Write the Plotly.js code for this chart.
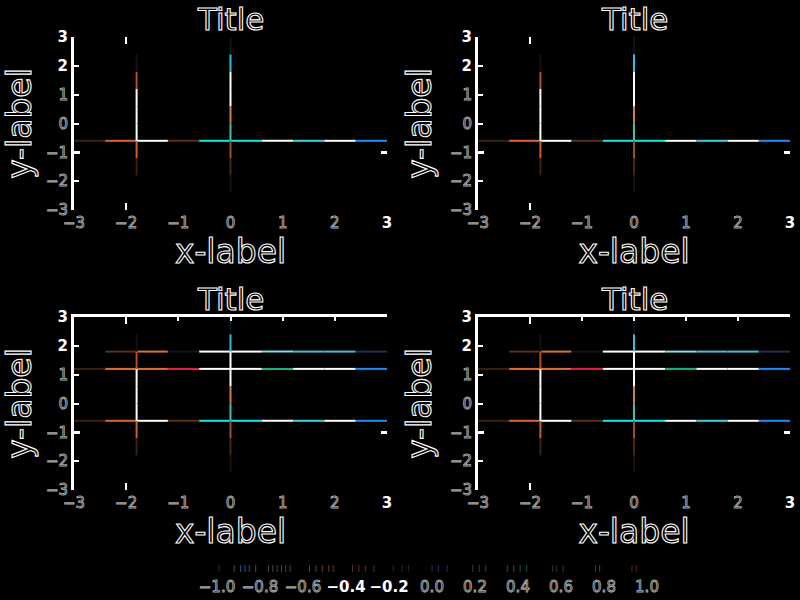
<!DOCTYPE html>
<html>
<head>
<meta charset="utf-8">
<script src="https://cdn.plot.ly/plotly-3.0.1.min.js"></script>
<style>
html,body{margin:0;padding:0;background:#000;}
#chart{width:800px;height:600px;}
#chart svg text.annotation-text, #chart svg text[class$="title"] { fill:#000 !important; stroke:#ffffff; stroke-width:1.1px; }
#chart svg g[class$="tick"] > text { fill:#000 !important; stroke:#a8a8a8; stroke-width:0.9px; }
#chart svg g[class$="tick"] > text tspan[style*="bold"] { fill:#ffffff !important; stroke:none; }
</style>
</head>
<body>
<div id="chart"></div>
<script>
// ---------- data ----------
const segEdges = [-3, -2.4, -1.8, -1.2, -0.6, 0, 0.6, 1.2, 1.8, 2.4, 3];

const hLineLowY = -0.6;
const hLineLowColors = ['#3a2210', '#e2642a', '#ffffff', '#5a3010', '#19e6e6', '#19e6e6', '#ffffff', '#3cd2dc', '#ffffff', '#1e8cf0'];
const hLineMidY = 1.2;
const hLineMidColors = ['#3a2010', '#e07030', '#e07030', '#e02040', '#ffffff', '#ffffff', '#20b080', '#ffffff', '#ffffff', '#1e8cf0'];
const hLineHighY = 1.8;
const hLineHighColors = [null, '#5a3020', '#e07030', '#101020', '#ffffff', '#ffffff', '#80e0f0', '#40c0e0', '#40c0e0', '#203050'];

const vLineLeftX = -1.8;
const vLineLeftColors = [null, null, '#3a2010', '#d06020', '#ffffff', '#ffffff', '#ffffff', '#b05020', '#1a1008', null];
const vLineCenterX = 0;
const vLineCenterColors = [null, '#1a1008', '#4a2410', '#a05020', '#40c0b0', '#d08040', '#ffffff', '#ffffff', '#30c0e0', '#0a1420'];

const axisTickVals = [-3, -2, -1, 0, 1, 2, 3];
const xTickLabels = ['\u22123', '\u22122', '\u22121', '0', '1', '2', '3'];
const xTickBold = [false, false, false, false, false, false, true];
const yTickLabels = ['\u22123', '\u22122', '\u22121', '0', '1', '2', '3'];
const yTickBold = [false, false, false, false, false, true, true];

const cbTickVals = [-1.0, -0.8, -0.6, -0.4, -0.2, 0.0, 0.2, 0.4, 0.6, 0.8, 1.0];
const cbTickLabels = ['\u22121.0', '\u22120.8', '\u22120.6', '\u22120.4', '\u22120.2', '0.0', '0.2', '0.4', '0.6', '0.8', '1.0'];
const cbTickBold = [false, false, false, true, true, false, false, false, false, false, false];

const cbMarkX = [-0.99,
  -0.92, -0.89, -0.87, -0.85, -0.82,
  -0.76, -0.74, -0.72, -0.70, -0.68, -0.66,
  -0.57, -0.54, -0.51, -0.48, -0.46,
  -0.37, -0.34, -0.31, -0.27,
  -0.18, -0.14, -0.11,
  0.00, 0.03, 0.07,
  0.19, 0.22, 0.25,
  0.35, 0.38, 0.41, 0.44,
  0.56, 0.58, 0.61,
  0.76, 0.78,
  0.93, 0.95];
const cbMarkColors = ['#203050',
  '#305080', '#305080', '#305080', '#305080', '#305080',
  '#404848', '#404848', '#404848', '#404848', '#404848', '#404848',
  '#604020', '#604020', '#604020', '#604020', '#604020',
  '#603020', '#603020', '#603020', '#603020',
  '#402020', '#402020', '#402020',
  '#203050', '#203050', '#203050',
  '#204060', '#204060', '#204060',
  '#205050', '#205050', '#205050', '#205050',
  '#204030', '#204030', '#204030',
  '#404020', '#404020',
  '#602020', '#602020'];

// ---------- helpers ----------
const FONT = 'DejaVu Sans, Verdana, sans-serif';
function styledTicks(labels, bold) {
  return labels.map((t, i) => bold[i] ? `<b>${t}</b>` : t);
}

const panels = [
  {x: [0.0925, 0.48375], y: [0.65, 0.9383], full: false},
  {x: [0.5975, 0.9875], y: [0.65, 0.9383], full: false},
  {x: [0.0925, 0.48375], y: [0.1833, 0.4717], full: true},
  {x: [0.5975, 0.9875], y: [0.1833, 0.4717], full: true}
];

const traces = [];
const layout = {
  width: 800, height: 600,
  paper_bgcolor: '#000000', plot_bgcolor: '#000000',
  margin: {l: 0, r: 0, t: 0, b: 0},
  showlegend: false,
  font: {family: FONT, color: '#ffffff'},
  annotations: []
};

function hLine(xa, ya, yv, colors) {
  colors.forEach((c, i) => {
    if (!c) return;
    traces.push({type: 'scatter', mode: 'lines', xaxis: xa, yaxis: ya,
      x: [segEdges[i], segEdges[i + 1]], y: [yv, yv],
      line: {color: c, width: 2}, hoverinfo: 'skip'});
  });
}
function vLine(xa, ya, xv, colors) {
  colors.forEach((c, i) => {
    if (!c) return;
    traces.push({type: 'scatter', mode: 'lines', xaxis: xa, yaxis: ya,
      x: [xv, xv], y: [segEdges[i], segEdges[i + 1]],
      line: {color: c, width: 2}, hoverinfo: 'skip'});
  });
}

const tickFont = {family: FONT, size: 15, color: '#000000'};
const labelFont = {family: FONT, size: 33, color: '#000000'};
const titleFont = {family: FONT, size: 31, color: '#000000'};

panels.forEach((p, k) => {
  const n = k + 1;
  const xa = 'x' + (n === 1 ? '' : n), ya = 'y' + (n === 1 ? '' : n);
  const xk = 'xaxis' + (n === 1 ? '' : n), yk = 'yaxis' + (n === 1 ? '' : n);
  const tn = n + 4;
  const xt = 'x' + tn, yt = 'y' + tn;

  layout[xk] = {domain: p.x, range: [-3, 3], anchor: ya, showgrid: false, zeroline: false,
    showline: false, ticks: '', tickvals: axisTickVals, ticktext: styledTicks(xTickLabels, xTickBold),
    tickfont: tickFont, ticklabelstandoff: 2,
    title: {text: 'x-label', font: labelFont, standoff: 4}};
  layout[yk] = {domain: p.y, range: [-3, 3], anchor: xa, showgrid: false, zeroline: false,
    showline: true, linecolor: '#ffffff', linewidth: 3,
    ticks: 'inside', ticklen: 5, tickwidth: 2, tickcolor: '#ffffff',
    tickvals: axisTickVals, ticktext: styledTicks(yTickLabels, yTickBold),
    tickfont: tickFont, title: {text: 'y-label', font: labelFont, standoff: 9}};
  // extra tick marks (x = -2 top & bottom, y = -1 left & right)
  layout['xaxis' + tn] = {overlaying: xa, anchor: yt, range: [-3, 3], showgrid: false, zeroline: false,
    showline: false, ticks: 'inside', ticklen: 7, tickwidth: 2, tickcolor: '#ffffff',
    mirror: 'ticks', tickvals: [-2], showticklabels: false};
  layout['yaxis' + tn] = {overlaying: ya, anchor: xt, range: [-3, 3], showgrid: false, zeroline: false,
    showline: false, ticks: 'inside', ticklen: 6, tickwidth: 3, tickcolor: '#ffffff',
    mirror: 'ticks', tickvals: [-1], showticklabels: false};
  traces.push({type: 'scatter', mode: 'lines', x: [], y: [], xaxis: xt, yaxis: yt, hoverinfo: 'skip'});

  if (p.full) {
    const sn = k === 2 ? 9 : 10;
    layout['xaxis' + sn] = {overlaying: xa, anchor: ya, side: 'top', range: [-3, 3], showgrid: false,
      zeroline: false, showline: true, linecolor: '#ffffff', linewidth: 3,
      ticks: 'inside', ticklen: 4, tickwidth: 2, tickcolor: '#ffffff',
      tickvals: [-2, -1, 0, 1, 2], showticklabels: false};
    traces.push({type: 'scatter', mode: 'lines', x: [], y: [], xaxis: 'x' + sn, yaxis: ya, hoverinfo: 'skip'});
  }

  hLine(xa, ya, hLineLowY, hLineLowColors);
  if (p.full) {
    hLine(xa, ya, hLineHighY, hLineHighColors);
    hLine(xa, ya, hLineMidY, hLineMidColors);
  }
  vLine(xa, ya, vLineLeftX, vLineLeftColors);
  vLine(xa, ya, vLineCenterX, vLineCenterColors);

  layout.annotations.push({text: 'Title', xref: 'paper', yref: 'paper',
    x: (p.x[0] + p.x[1]) / 2, y: p.y[1] + 0.03, xanchor: 'center', yanchor: 'middle',
    showarrow: false, font: titleFont});
});

// colorbar-like axis
layout.xaxis11 = {domain: [0.27125, 0.80875], range: [-1, 1], anchor: 'y9', showgrid: false,
  zeroline: false, showline: false, ticks: '', tickvals: cbTickVals,
  ticktext: styledTicks(cbTickLabels, cbTickBold), tickfont: tickFont, ticklabelstandoff: 4};
layout.yaxis9 = {domain: [0.0467, 0.0583], range: [0, 1], anchor: 'x11', visible: false};
traces.push({type: 'scatter', mode: 'markers', xaxis: 'x11', yaxis: 'y9',
  x: cbMarkX, y: cbMarkX.map(() => 0.5),
  marker: {symbol: 'line-ns', size: 8, line: {width: 1, color: cbMarkColors}},
  hoverinfo: 'skip'});

Plotly.newPlot('chart', traces, layout, {staticPlot: true});
</script>
</body>
</html>
